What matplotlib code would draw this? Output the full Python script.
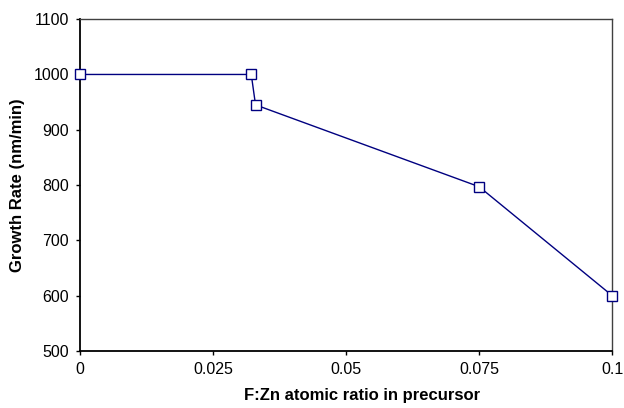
import matplotlib
matplotlib.use("Agg")
import matplotlib.pyplot as plt

plt.rcParams['font.family'] = ['Liberation Sans', 'DejaVu Sans']

ratio = [0.0, 0.0322, 0.033, 0.075, 0.1]
growth_rate = [1000, 1000, 945, 797, 600]

fig = plt.figure(figsize=(6.24, 4.08), dpi=100)
ax = fig.add_axes([0.128, 0.140, 0.853, 0.813])

ax.plot(ratio, growth_rate, color='#000080', linewidth=1.0, marker='s',
        markersize=6.5, markerfacecolor='white', markeredgecolor='#000080',
        markeredgewidth=1.0, clip_on=False, zorder=3)

ax.set_xlim(0, 0.1)
ax.set_ylim(500, 1100)
ax.set_xticks([0, 0.025, 0.05, 0.075, 0.1])
ax.set_xticklabels(['0', '0.025', '0.05', '0.075', '0.1'])
ax.set_yticks(range(500, 1101, 100))

ax.tick_params(direction='out', length=3, width=1, labelsize=11.5, pad=5)
ax.set_xlabel('F:Zn atomic ratio in precursor', fontsize=12, fontweight='bold')
ax.xaxis.set_label_coords(0.53, -0.112)
ax.set_ylabel('Growth Rate (nm/min)', fontsize=12, fontweight='bold')
ax.yaxis.set_label_coords(-0.103, 0.5)

for side in ['left', 'bottom']:
    ax.spines[side].set_linewidth(1.3)
    ax.spines[side].set_color('black')
for side in ['top', 'right']:
    ax.spines[side].set_linewidth(1.0)
    ax.spines[side].set_color('#404040')

fig.savefig('out.png', dpi=100)
